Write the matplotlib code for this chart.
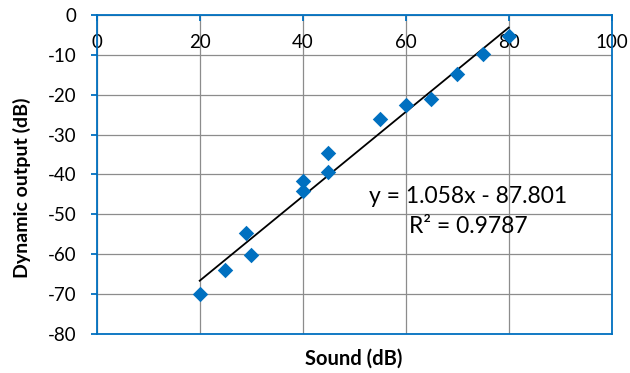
import numpy as np
from matplotlib import pyplot as plt

# data
sound_db = [20, 25, 29, 30, 40, 40, 45, 45, 55, 60, 65, 70, 75, 80]
output_db = [-70.0, -64.0, -54.7, -60.2, -41.7, -44.2, -34.7, -39.3,
             -26.2, -22.6, -21.0, -14.9, -9.9, -5.3]

slope = 1.058
intercept = -87.801
r_squared = 0.9787

x_ticks = [0, 20, 40, 60, 80, 100]
y_ticks = [0, -10, -20, -30, -40, -50, -60, -70, -80]

blue = "#0070C0"
grid_grey = "#8C8C8C"

plt.rcParams['font.family'] = ['Lato', 'DejaVu Sans']
plt.rcParams['axes.unicode_minus'] = False

fig = plt.figure(figsize=(6.3, 3.73), dpi=100)
ax = fig.add_axes([0.1535, 0.1046, 0.971 - 0.1535, 0.9598 - 0.1046])

ax.set_xlim(0, 100)
ax.set_ylim(-80, 0)
ax.set_xticks(x_ticks)
ax.set_yticks(y_ticks)

ax.grid(True, color=grid_grey, linewidth=0.9, zorder=0)
ax.set_axisbelow(True)

# x axis crosses at y = 0 (top of the plot area)
ax.spines['bottom'].set_position(('data', 0))
ax.spines['top'].set_visible(False)
for side in ('bottom', 'left', 'right'):
    ax.spines[side].set_color(blue)
    ax.spines[side].set_linewidth(1.3)
ax.axhline(-80, color=blue, linewidth=1.3, clip_on=False, zorder=3)

ax.tick_params(axis='x', direction='out', length=4, width=1.3,
               color=blue, pad=9.5, labelsize=13.5)
ax.tick_params(axis='y', direction='out', length=4.5, width=1.3,
               color=blue, pad=10, labelsize=13.5)

# trendline
fit_x = np.array([min(sound_db), max(sound_db)])
ax.plot(fit_x, slope * fit_x + intercept, color='black', linewidth=1.3,
        zorder=3)

ax.scatter(sound_db, output_db, marker='D', s=62, color=blue,
           linewidths=0, zorder=4)

ax.text(72.1, -45.5, f"y = {slope}x - {abs(intercept)}", ha='center',
        va='center', fontsize=16.5)
ax.text(72.1, -53.0, f"R² = {r_squared}", ha='center', va='center',
        fontsize=16.5)

fig.text(0.562, 0.038, "Sound (dB)", ha='center', va='center',
         fontsize=14.5, weight='bold')
fig.text(0.035, 0.496, "Dynamic output (dB)", ha='center', va='center',
         rotation=90, fontsize=14, weight='bold')

fig.savefig("out.png", dpi=100)
plt.close("all")
